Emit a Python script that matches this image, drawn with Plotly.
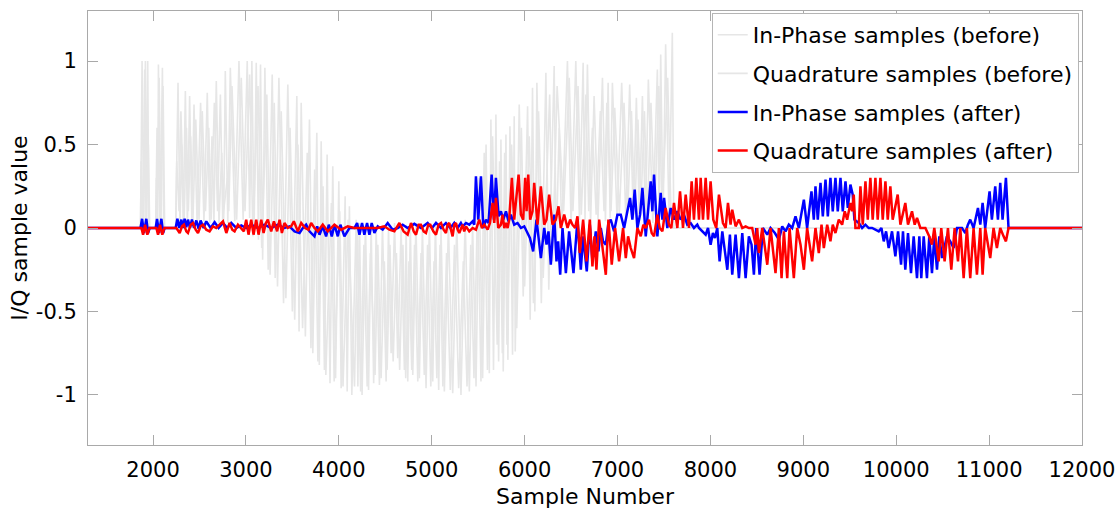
import plotly.graph_objects as go

# ---------------- data (sample number, value) ----------------
gray_i_before = [
    (1300, 0), (1865, 0), (1882, 1.0), (1900, -0.03), (1918, 1.0), (1930, -0.03), (1943, 1.0), (1955, -0.03),
    (1964, 0), (2029, 0), (2043, 0.6), (2050, -0.03), (2058, 0.98), (2075, -0.03), (2101, 0.96), (2115, -0.03),
    (2125, 0), (2244, 0), (2269, 0.87), (2290, 0.02), (2310, 0.5), (2325, 0.03), (2348, 0.82), (2370, 0.02),
    (2394, 0.79), (2418, 0.03), (2441, 0.74), (2475, 0.02), (2512, 0.75), (2548, 0.04), (2584, 0.81), (2610, 0.03),
    (2635, 0.55), (2655, 0.02), (2681, 0.88), (2710, 0.03), (2740, 0.45), (2760, 0.02), (2778, 0.94), (2805, 0.03),
    (2832, 0.96), (2880, 0.04), (2925, 1.0), (2970, 0.05), (3014, 1.0), (3040, 0.06), (3064, 1.0), (3088, 0.0),
    (3111, 0.99), (3135, -0.07), (3157, 0.98), (3180, -0.19), (3204, 0.96), (3240, -0.25), (3283, 0.92), (3315, -0.3),
    (3355, 0.9), (3405, -0.45), (3451, 0.86), (3500, -0.5), (3548, 0.79), (3572, -0.62), (3595, 0.75), (3640, -0.65),
    (3684, 0.65), (3720, -0.75), (3763, 0.57), (3790, -0.82), (3810, 0.52), (3845, -0.85), (3874, 0.44), (3905, -0.93),
    (3935, 0.37), (3965, -0.9), (4000, 0.28), (4025, -0.96), (4068, 0.19), (4090, -0.98), (4114, 0.13), (4140, -1.0),
    (4187, 0.05), (4205, -0.95), (4222, 0.03), (4250, -1.0), (4287, 0.02), (4320, -0.97), (4348, 0.02), (4375, -0.93),
    (4402, 0.0), (4437, -0.94), (4470, 0.02), (4509, -0.92), (4535, 0.01), (4563, -0.75), (4600, 0.03), (4634, -0.78),
    (4670, 0.0), (4706, -0.85), (4725, 0.02), (4742, -0.92), (4770, 0.01), (4796, -0.88), (4830, 0.03), (4867, -0.9),
    (4900, 0.0), (4939, -0.96), (4975, 0.02), (5011, -0.92), (5040, 0.03), (5075, -0.97), (5100, 0.0), (5136, -0.98),
    (5180, 0.02), (5226, -0.99), (5270, 0.03), (5315, -1.0), (5360, 0.05), (5405, -0.98), (5440, 0.02), (5477, -0.95),
    (5510, 0.3), (5548, -0.9), (5585, 0.5), (5620, -0.87), (5637, 0.65), (5665, -0.85), (5691, 0.68), (5720, -0.8),
    (5745, 0.53), (5770, -0.86), (5799, 0.56), (5820, -0.79), (5842, 0.61), (5870, -0.76), (5888, 0.67), (5899, -0.74),
    (5942, 0.74), (5985, -0.41), (6032, 0.73), (6060, -0.55), (6085, 0.84), (6110, -0.5), (6132, 0.87), (6180, -0.45),
    (6229, 0.93), (6260, -0.37), (6318, 0.97), (6340, -0.13), (6372, 0.6), (6400, -0.03), (6461, 1.0), (6500, 0.02),
    (6551, 1.0), (6590, 0.05), (6630, 0.99), (6650, 0.05), (6676, 0.98), (6710, 0.03), (6748, 0.79), (6790, 0.05),
    (6838, 0.9), (6870, 0.04), (6899, 0.87), (6920, 0.06), (6945, 0.87), (6995, 0.05), (7045, 0.87), (7090, 0.04),
    (7131, 0.86), (7170, 0.06), (7203, 0.78), (7235, 0.05), (7268, 0.79), (7300, 0.04), (7332, 0.89), (7380, 0.03),
    (7429, 0.95), (7447, 0.05), (7465, 1.04), (7490, 0.04), (7518, 1.1), (7555, 0.03), (7590, 1.17), (7606, 0.0),
    (12000, 0),
]

gray_q_before = [
    (1300, 0), (1865, 0), (1872, 0.4), (1890, -0.03), (1910, 0.95), (1925, 0.0), (1950, 0.5), (1964, 0),
    (2029, 0), (2036, 0.3), (2054, 0.23), (2066, 0.9), (2085, 0.0), (2108, 0.85), (2125, 0), (2244, 0),
    (2255, 0.4), (2280, 0.1), (2300, 0.7), (2335, 0.05), (2360, 0.6), (2380, 0.1), (2405, 0.55), (2430, 0.05),
    (2460, 0.65), (2495, 0.05), (2530, 0.7), (2565, 0.1), (2600, 0.6), (2625, 0.05), (2660, 0.75), (2695, 0.1),
    (2725, 0.8), (2750, 0.05), (2800, 0.3), (2815, 0.1), (2850, 0.85), (2900, 0.05), (2950, 0.9), (2990, 0.1),
    (3040, 0.92), (3075, -0.05), (3130, 0.85), (3170, -0.12), (3225, 0.8), (3260, -0.28), (3305, 0.75), (3340, -0.35),
    (3380, 0.7), (3430, -0.42), (3475, 0.6), (3525, -0.55), (3560, 0.5), (3610, -0.6), (3660, 0.45), (3700, -0.72),
    (3740, 0.35), (3775, -0.8), (3830, 0.25), (3860, -0.88), (3920, 0.15), (3950, -0.92), (4010, 0.1), (4045, -0.95),
    (4100, 0.05), (4169, -0.95), (4200, 0.0), (4235, -0.98), (4270, -0.1), (4305, -0.95), (4340, -0.15), (4390, -0.88),
    (4420, -0.1), (4455, -0.9), (4490, -0.2), (4520, -0.85), (4550, -0.1), (4585, -0.8), (4620, -0.15), (4655, -0.85),
    (4690, -0.1), (4720, -0.9), (4755, -0.2), (4785, -0.85), (4815, -0.1), (4850, -0.92), (4885, -0.15), (4920, -0.88),
    (4955, -0.1), (4990, -0.95), (5025, -0.2), (5055, -0.9), (5090, -0.1), (5120, -0.95), (5160, -0.15), (5200, -0.97),
    (5245, -0.1), (5290, -0.96), (5340, -0.2), (5380, -0.95), (5420, -0.1), (5455, -0.9), (5495, 0.2), (5530, -0.92),
    (5565, 0.45), (5600, -0.85), (5655, 0.55), (5705, -0.7), (5730, 0.4), (5760, -0.75), (5785, 0.45), (5810, -0.7),
    (5860, 0.5), (5915, -0.6), (5965, 0.6), (6000, -0.35), (6050, 0.55), (6095, -0.45), (6150, 0.7), (6200, -0.3),
    (6270, 0.8), (6300, -0.2), (6350, 0.85), (6420, 0.1), (6480, 0.9), (6520, 0.1), (6575, 0.85), (6610, 0.08),
    (6660, 0.8), (6690, 0.1), (6730, 0.6), (6770, 0.08), (6815, 0.7), (6855, 0.1), (6885, 0.75), (6930, 0.1),
    (6970, 0.72), (7020, 0.08), (7070, 0.75), (7110, 0.1), (7150, 0.7), (7185, 0.08), (7220, 0.65), (7250, 0.1),
    (7290, 0.7), (7320, 0.05), (7360, 0.75), (7400, 0.1), (7445, 0.85), (7480, 0.1), (7540, 0.9), (7575, 0.1),
    (7600, 0.0), (12000, 0),
]

blue_i_after = [
    (1300, 0), (1865, 0), (1882, 0.055), (1903, -0.03), (1928, 0.055), (1946, -0.03), (1964, 0), (2029, 0),
    (2043, 0.055), (2065, -0.03), (2090, 0.055), (2108, -0.03), (2125, 0), (2244, 0), (2262, 0.055), (2283, 0.0),
    (2305, 0.05), (2323, 0.0), (2340, 0.055), (2358, 0.005), (2376, 0.05), (2398, 0.0), (2419, 0.05), (2441, 0.0),
    (2466, 0.045), (2491, -0.005), (2512, 0.045), (2545, 0.0), (2573, 0.04), (2620, 0.0), (2663, 0.035), (2706, 0.0),
    (2753, 0.03), (2799, 0.0), (2842, 0.03), (2896, 0.0), (2950, 0.015), (3003, 0.0), (3057, 0.02), (3129, 0.0),
    (3200, 0.02), (3272, 0.0), (3344, 0.02), (3415, 0.0), (3469, 0.01), (3523, -0.02), (3577, -0.03), (3612, 0.0),
    (3648, 0.02), (3684, -0.02), (3738, -0.05), (3767, 0.01), (3792, -0.04), (3827, 0.01), (3863, -0.05), (3892, 0.02),
    (3924, -0.05), (3953, 0.02), (3989, -0.05), (4017, 0.02), (4060, -0.05), (4114, 0.0), (4168, 0.0), (4197, 0.03),
    (4222, -0.04), (4250, 0.03), (4275, -0.04), (4304, 0.03), (4329, -0.04), (4354, 0.03), (4383, -0.03), (4419, 0.01),
    (4472, -0.01), (4526, 0.03), (4580, -0.01), (4634, 0.0), (4687, 0.02), (4741, 0.0), (4813, 0.025), (4884, 0.0),
    (4956, 0.03), (5003, 0.0), (5046, 0.03), (5100, 0.0), (5153, 0.03), (5200, 0.0), (5243, 0.03), (5279, 0.0),
    (5314, 0.03), (5333, 0.01), (5369, 0.03), (5404, 0.02), (5440, 0.04), (5458, 0.02), (5476, 0.31), (5501, 0.05),
    (5530, 0.31), (5555, 0.0), (5584, 0.05), (5612, 0.03), (5645, 0.32), (5670, 0.05), (5691, 0.30), (5720, 0.07),
    (5745, 0.1), (5770, 0.05), (5799, 0.1), (5827, 0.04), (5852, 0.08), (5888, 0.02), (5924, 0.03), (5960, 0.0),
    (5996, 0.01), (6032, -0.03), (6057, -0.06), (6092, -0.14), (6128, 0.05), (6175, -0.18), (6211, 0.0), (6236, -0.1),
    (6257, -0.02), (6282, -0.22), (6318, 0.08), (6343, -0.2), (6361, -0.08), (6383, -0.28), (6408, 0.0), (6444, -0.27),
    (6479, -0.02), (6526, -0.27), (6569, 0.05), (6605, -0.25), (6630, -0.05), (6669, -0.26), (6702, 0.02), (6730, -0.2),
    (6766, -0.02), (6795, -0.14), (6820, 0.0), (6845, -0.08), (6874, -0.1), (6902, 0.03), (6927, 0.05), (6963, -0.02),
    (6999, 0.08), (7035, 0.08), (7071, 0.0), (7106, 0.1), (7135, 0.18), (7160, 0.05), (7185, 0.23), (7214, 0.0),
    (7243, 0.08), (7268, 0.24), (7304, -0.05), (7332, 0.12), (7357, 0.28), (7375, 0.1), (7393, 0.32), (7429, -0.05),
    (7465, 0.21), (7483, 0.05), (7501, 0.18), (7536, 0.0), (7572, 0.12), (7608, 0.05), (7644, 0.1), (7680, 0.05),
    (7715, 0.08), (7751, 0.02), (7787, 0.03), (7823, 0.0), (7859, 0.02), (7877, 0.0), (7913, -0.02), (7949, -0.04),
    (7974, 0.0), (8002, -0.1), (8027, -0.03), (8049, -0.06), (8074, 0.0), (8099, -0.2), (8128, -0.02), (8182, -0.25),
    (8210, -0.04), (8235, -0.28), (8271, -0.04), (8307, -0.3), (8343, -0.03), (8379, -0.3), (8414, -0.05), (8443, -0.1),
    (8468, -0.28), (8493, 0.0), (8529, -0.28), (8565, 0.0), (8612, -0.04), (8647, 0.0), (8694, -0.03), (8737, -0.07),
    (8773, 0.01), (8809, -0.02), (8844, 0.02), (8880, 0.0), (8916, 0.07), (8952, 0.0), (9006, 0.17), (9041, 0.0),
    (9088, 0.22), (9113, 0.05), (9131, 0.25), (9156, 0.05), (9185, 0.27), (9210, 0.07), (9239, 0.29), (9264, 0.07),
    (9292, 0.3), (9317, 0.1), (9346, 0.3), (9371, 0.1), (9400, 0.3), (9425, 0.1), (9454, 0.28), (9479, 0.12),
    (9507, 0.26), (9532, 0.2), (9550, 0.05), (9597, 0.03), (9633, 0.0), (9669, 0.02), (9704, 0.0), (9740, 0.0),
    (9776, -0.01), (9812, -0.02), (9841, 0.0), (9866, -0.08), (9891, -0.02), (9919, -0.12), (9955, -0.02), (9991, -0.17),
    (10020, -0.02), (10052, -0.22), (10073, -0.02), (10098, -0.25), (10127, -0.03), (10159, -0.27), (10188, -0.05),
    (10224, -0.3), (10249, -0.05), (10270, -0.3), (10296, -0.05), (10331, -0.3), (10356, -0.05), (10385, -0.27),
    (10410, -0.05), (10439, -0.25), (10464, -0.05), (10493, -0.18), (10546, -0.05), (10582, -0.08), (10618, -0.12),
    (10654, 0.0), (10708, 0.0), (10744, -0.03), (10772, 0.02), (10797, 0.05), (10833, 0.0), (10880, 0.12), (10905, 0.02),
    (10930, 0.15), (10958, 0.0), (11005, 0.22), (11030, 0.05), (11066, 0.25), (11095, 0.05), (11120, 0.27),
    (11145, 0.05), (11181, 0.3), (11209, 0.0), (12000, 0),
]

red_q_after = [
    (1300, 0), (1875, 0), (1893, -0.04), (1914, 0.02), (1939, -0.04), (1961, 0.0), (2036, 0), (2054, -0.04),
    (2075, 0.02), (2100, -0.04), (2122, 0.0), (2251, 0.0), (2287, -0.03), (2312, 0.01), (2333, 0.02), (2358, -0.02),
    (2376, -0.03), (2405, 0.02), (2430, 0.03), (2459, -0.01), (2484, -0.03), (2512, 0.01), (2538, 0.02), (2573, -0.01),
    (2609, -0.02), (2645, 0.01), (2681, 0.0), (2717, 0.02), (2753, 0.04), (2789, -0.03), (2824, 0.03), (2853, -0.01),
    (2878, -0.02), (2914, 0.02), (2950, 0.0), (2978, -0.02), (3003, 0.05), (3028, -0.04), (3057, 0.05), (3082, -0.04),
    (3111, 0.05), (3136, -0.04), (3165, 0.05), (3190, -0.03), (3215, 0.03), (3236, 0.05), (3272, -0.02), (3301, 0.04),
    (3336, -0.02), (3362, 0.05), (3387, -0.03), (3415, 0.03), (3451, 0.0), (3487, 0.01), (3516, 0.04), (3559, -0.02),
    (3595, 0.03), (3638, 0.0), (3673, -0.01), (3702, 0.03), (3738, 0.0), (3774, -0.02), (3827, 0.02), (3881, -0.02),
    (3953, 0.02), (4025, -0.01), (4096, 0.01), (4168, 0.0), (4311, 0.0), (4419, 0.0), (4490, 0.01), (4544, -0.01),
    (4598, -0.02), (4652, 0.03), (4698, -0.02), (4741, -0.04), (4777, 0.03), (4806, -0.02), (4831, -0.04), (4859, 0.02),
    (4884, 0.02), (4913, -0.02), (4938, -0.03), (4963, 0.02), (4985, 0.02), (5017, -0.02), (5046, -0.04), (5074, 0.02),
    (5100, 0.03), (5128, -0.01), (5153, -0.03), (5171, 0.02), (5189, 0.03), (5207, -0.02), (5225, -0.05), (5243, 0.02),
    (5261, 0.03), (5279, -0.01), (5297, -0.03), (5332, 0.02), (5350, -0.02), (5369, 0.01), (5404, -0.02), (5440, 0.0),
    (5476, -0.01), (5512, 0.05), (5541, 0.0), (5566, 0.02), (5602, -0.01), (5627, 0.03), (5655, 0.15), (5673, 0.03),
    (5691, 0.18), (5716, 0.0), (5745, 0.02), (5763, 0.08), (5781, 0.0), (5799, 0.03), (5817, 0.0), (5834, 0.05),
    (5863, 0.3), (5888, 0.05), (5913, 0.2), (5935, 0.32), (5960, 0.08), (5985, 0.05), (6006, 0.3), (6021, 0.1),
    (6039, 0.32), (6060, 0.05), (6085, 0.1), (6103, 0.27), (6139, 0.02), (6175, 0.25), (6211, 0.02), (6236, 0.05),
    (6264, 0.2), (6300, 0.02), (6336, 0.05), (6365, 0.13), (6390, 0.0), (6426, 0.08), (6462, 0.0), (6490, 0.05),
    (6515, 0.02), (6544, 0.0), (6569, 0.07), (6594, -0.15), (6630, 0.05), (6666, -0.2), (6702, 0.05), (6730, -0.23),
    (6752, -0.05), (6773, -0.25), (6802, 0.05), (6838, -0.1), (6874, -0.28), (6902, 0.05), (6938, -0.22), (6974, 0.0),
    (7017, -0.2), (7060, 0.0), (7089, -0.18), (7114, -0.05), (7142, -0.12), (7178, -0.18), (7214, 0.0), (7250, -0.05),
    (7278, 0.02), (7304, 0.0), (7339, 0.05), (7368, -0.03), (7393, -0.05), (7429, 0.08), (7454, 0.0), (7483, -0.02),
    (7518, 0.12), (7554, 0.02), (7579, 0.0), (7608, 0.15), (7644, 0.0), (7673, 0.22), (7705, 0.0), (7734, 0.2),
    (7769, 0.0), (7798, 0.28), (7823, 0.05), (7848, 0.3), (7877, 0.05), (7895, 0.3), (7920, 0.05), (7949, 0.3),
    (7974, 0.05), (8002, 0.28), (8031, 0.05), (8063, 0.0), (8092, 0.2), (8135, 0.03), (8164, 0.0), (8189, 0.15),
    (8217, 0.02), (8235, 0.11), (8271, 0.01), (8307, 0.05), (8343, 0.0), (8379, 0.01), (8414, 0.0), (8450, 0.0),
    (8486, -0.1), (8504, 0.0), (8522, -0.15), (8558, 0.0), (8612, -0.22), (8647, 0.0), (8701, -0.27), (8737, 0.0),
    (8766, -0.3), (8791, -0.02), (8827, -0.3), (8852, 0.0), (8898, -0.3), (8934, 0.0), (8970, -0.1), (9006, -0.25),
    (9041, 0.0), (9095, -0.2), (9131, 0.0), (9167, -0.15), (9196, 0.02), (9221, -0.12), (9257, 0.02), (9292, -0.08),
    (9317, 0.02), (9346, -0.03), (9382, 0.05), (9418, 0.02), (9446, 0.1), (9472, 0.05), (9507, 0.15), (9525, 0.1),
    (9543, 0.2), (9561, 0.0), (9597, 0.0), (9615, 0.25), (9640, 0.02), (9669, 0.28), (9694, 0.05), (9722, 0.3),
    (9747, 0.05), (9776, 0.3), (9801, 0.05), (9830, 0.3), (9855, 0.05), (9884, 0.28), (9909, 0.05), (9937, 0.25),
    (9962, 0.05), (10016, 0.2), (10045, 0.02), (10098, 0.15), (10127, 0.02), (10170, 0.1), (10199, 0.02),
    (10224, 0.06), (10260, 0.0), (10314, 0.0), (10356, -0.05), (10385, -0.1), (10410, 0.0), (10457, -0.2),
    (10485, 0.0), (10521, -0.2), (10557, 0.0), (10593, -0.25), (10629, 0.0), (10665, -0.2), (10690, 0.0),
    (10726, -0.3), (10761, 0.0), (10797, -0.3), (10833, 0.0), (10869, -0.28), (10905, 0.0), (10930, -0.28),
    (10958, 0.0), (11012, -0.18), (11048, 0.0), (11084, -0.12), (11120, 0.0), (11156, -0.05), (11181, -0.08),
    (11209, 0.0), (12000, 0),
]

series_names = [
    "In-Phase samples (before)",
    "Quadrature samples (before)",
    "In-Phase samples (after)",
    "Quadrature samples (after)",
]
series_data = [gray_i_before, gray_q_before, blue_i_after, red_q_after]
series_colors = ["#e6e6e6", "#e6e6e6", "#0000ff", "#ff0000"]
series_widths = [1.6, 1.6, 2.5, 2.5]

x_tick_values = [2000, 3000, 4000, 5000, 6000, 7000, 8000, 9000, 10000, 11000, 12000]
x_tick_labels = ["2000", "3000", "4000", "5000", "6000", "7000", "8000", "9000", "10000", "11000", "12000"]
y_tick_values = [-1, -0.5, 0, 0.5, 1]
y_tick_labels = ["-1", "-0.5", "0", "0.5", "1"]

# ---------------- figure ----------------
fig = go.Figure()
for i, (name, data, color, width) in enumerate(zip(series_names, series_data, series_colors, series_widths)):
    xs = [p[0] for p in data]
    ys = [p[1] for p in data]
    fig.add_trace(go.Scatter(
        x=xs, y=ys, mode="lines", name=name, legendgroup=f"g{i}",
        line=dict(color=color, width=width),
    ))

axis_color = "#a9a9a9"
fig.update_layout(
    template="none",
    width=1119, height=509,
    margin=dict(l=88, r=37, t=11, b=64, autoexpand=False),
    plot_bgcolor="white", paper_bgcolor="white",
    font=dict(family="DejaVu Sans", size=22, color="black"),
    showlegend=True,
    legend=dict(
        x=0.9967, xanchor="right", y=0.9955, yanchor="top",
        bgcolor="white", bordercolor="#b5b5b5", borderwidth=1,
        font=dict(size=22, family="DejaVu Sans", color="black"),
        tracegroupgap=7, traceorder="grouped", itemwidth=30,
    ),
    xaxis=dict(
        range=[1300, 12000], tickmode="array", tickvals=x_tick_values, ticktext=x_tick_labels,
        ticks="inside", ticklen=10, tickcolor=axis_color, tickwidth=1,
        showline=True, linecolor=axis_color, linewidth=1, mirror="ticks",
        showgrid=False, zeroline=False, automargin=False,
        tickfont=dict(size=21), ticklabelstandoff=6,
        title=dict(text="Sample Number", font=dict(size=22), standoff=8),
    ),
    yaxis=dict(
        range=[-1.3, 1.3], tickmode="array", tickvals=y_tick_values, ticktext=y_tick_labels,
        ticks="inside", ticklen=10, tickcolor=axis_color, tickwidth=1,
        showline=True, linecolor=axis_color, linewidth=1, mirror="ticks",
        showgrid=False, zeroline=False, automargin=False,
        tickfont=dict(size=21), ticklabelstandoff=6,
        title=dict(text="I/Q sample value", font=dict(size=22), standoff=2),
    ),
)

fig.write_html("out.html", config={"displayModeBar": False},
               post_script="document.body.style.margin='0';")
